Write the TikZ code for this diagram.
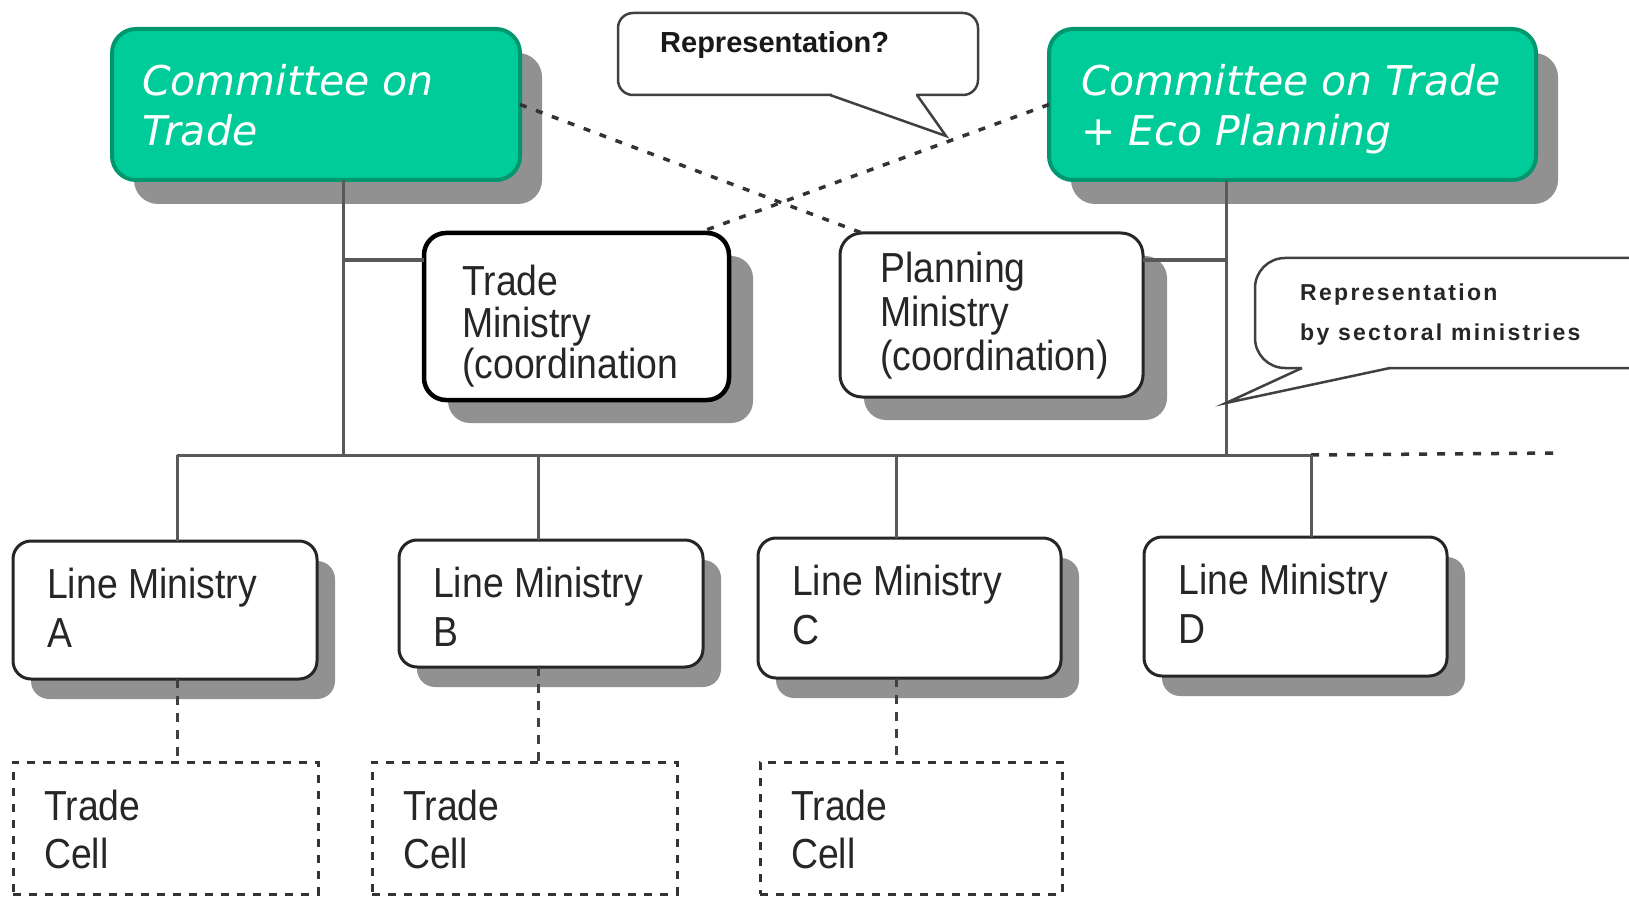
\documentclass[tikz,border=0pt]{standalone}
\usepackage{fontspec}
\setmainfont{Liberation Sans}
\newfontfamily\boxfont[FakeStretch=0.89]{Liberation Sans}
\newfontfamily\greenfont{DejaVu Sans Oblique}
\newfontfamily\notefont[LetterSpace=10]{Liberation Sans}
\usetikzlibrary{shadows}

\definecolor{cgreen}{RGB}{0,204,153}
\definecolor{cgreendark}{RGB}{0,150,110}
\definecolor{shade}{RGB}{145,145,145}

\tikzset{
  plainbox/.style={rectangle, inner sep=0pt, outer sep=0pt},
  greenbox/.style={plainbox, draw=cgreendark, line width=4pt, fill=cgreen,
    rounded corners=24pt,
    drop shadow={shadow xshift=22pt, shadow yshift=-24pt, fill=shade, opacity=1}},
  ministrybox/.style={plainbox, line width=4.5pt, fill=white, rounded corners=22pt,
    drop shadow={shadow xshift=24pt, shadow yshift=-23pt, fill=shade, opacity=1}},
  linebox/.style={plainbox, draw=black!85, line width=3pt, fill=white,
    rounded corners=18pt,
    drop shadow={shadow xshift=18pt, shadow yshift=-20pt, fill=shade, opacity=1}},
  cellbox/.style={plainbox, draw=black!80, line width=3pt,
    dash pattern=on 8pt off 8pt},
  conn/.style={draw=black!65, line width=3pt},
  dashconn/.style={draw=black!80, line width=3.5pt, dash pattern=on 7pt off 10pt},
  celllink/.style={draw=black!75, line width=3pt, dash pattern=on 9pt off 8pt},
  bubble/.style={draw=black!75, line width=2.5pt, fill=white},
  gtext/.style={anchor=base west, inner sep=0pt, text=white,
    font=\greenfont\fontsize{41}{41}\selectfont},
  btext/.style={anchor=base west, inner sep=0pt, text=black!85,
    font=\boxfont\fontsize{42}{42}\selectfont},
  qtext/.style={anchor=base west, inner sep=0pt, text=black!90,
    font=\bfseries\fontsize{29}{29}\selectfont},
  ntext/.style={anchor=base west, inner sep=0pt, text=black!85,
    font=\notefont\bfseries\fontsize{23}{23}\selectfont},
}

\begin{document}
\begin{tikzpicture}[x=1pt,y=-1pt]
\useasboundingbox (0,0) rectangle (1629,901);
\clip (0,0) rectangle (1629,901);

% junction points of the tree
\coordinate (jCotBus) at (343,455);
\coordinate (jCotTm)  at (343,260);
\coordinate (jEpBus)  at (1226,455);
\coordinate (jEpPm)   at (1226,260);
\coordinate (jLA) at (177,455);
\coordinate (jLB) at (538,455);
\coordinate (jLC) at (896,455);
\coordinate (jLD) at (1311,455);
\coordinate (busEnd) at (1559,453);
\coordinate (noteTip) at (1226,403);
\coordinate (askTip) at (946,136);

% committees
\node[greenbox, minimum width=408pt, minimum height=151pt] (cot) at (316,104.5) {};
\node[greenbox, minimum width=487pt, minimum height=151pt] (cotep) at (1292.5,104.5) {};
\node[gtext] (cotL1) at ([xshift=30pt,yshift=-67pt]cot.north west) {Committee on};
\node[gtext] (cotL2) at ([xshift=30pt,yshift=-117pt]cot.north west) {Trade};
\node[gtext] (cotepL1) at ([xshift=32pt,yshift=-67pt]cotep.north west) {Committee on Trade};
\node[gtext] (cotepL2) at ([xshift=32pt,yshift=-117pt]cotep.north west) {+ Eco Planning};

% coordinating ministries
\node[ministrybox, draw=black, minimum width=305pt, minimum height=167pt] (tm) at (576.5,316.5) {};
\node[ministrybox, draw=black!85, line width=3pt, minimum width=303pt, minimum height=164pt] (pm) at (991.5,315) {};
\node[btext] (tmL1) at ([xshift=38pt,yshift=-62pt]tm.north west) {Trade};
\node[btext] (tmL2) at ([xshift=38pt,yshift=-104pt]tm.north west) {Ministry};
\node[btext] (tmL3) at ([xshift=38pt,yshift=-145pt]tm.north west) {(coordination};
\node[btext] (pmL1) at ([xshift=40pt,yshift=-50pt]pm.north west) {Planning};
\node[btext] (pmL2) at ([xshift=40pt,yshift=-93pt]pm.north west) {Ministry};
\node[btext] (pmL3) at ([xshift=40pt,yshift=-137pt]pm.north west) {(coordination)};

% line ministries
\node[linebox, minimum width=304pt, minimum height=138pt] (lmA) at (165,610) {};
\node[linebox, minimum width=304pt, minimum height=127pt] (lmB) at (551,603.5) {};
\node[linebox, minimum width=303pt, minimum height=140pt] (lmC) at (909.5,608) {};
\node[linebox, minimum width=303pt, minimum height=139pt] (lmD) at (1295.5,606.5) {};
\foreach \m/\l in {lmA/A, lmB/B, lmC/C, lmD/D}{
  \node[btext] (\m L1) at ([xshift=34pt,yshift=-57pt]\m.north west) {Line Ministry};
  \node[btext] (\m L2) at ([xshift=34pt,yshift=-106pt]\m.north west) {\l};
}

% trade cells
\node[cellbox, minimum width=305pt, minimum height=132pt] (tcA) at (165.5,828) {};
\node[cellbox, minimum width=305pt, minimum height=132pt] (tcB) at (524.5,828) {};
\node[cellbox, minimum width=302pt, minimum height=132pt] (tcC) at (911,828) {};
\foreach \c in {tcA, tcB, tcC}{
  \node[btext] (\c L1) at ([xshift=31pt,yshift=-58pt]\c.north west) {Trade};
  \node[btext] (\c L2) at ([xshift=31pt,yshift=-106pt]\c.north west) {Cell};
}

% reporting lines
\draw[conn] (cot.south -| jCotBus) -- (jCotBus);
\draw[conn] (jCotTm) -- (tm.west |- jCotTm);
\draw[conn] (cotep.south -| jEpBus) -- (jEpBus);
\draw[conn] (jEpPm) -- (pm.east |- jEpPm);
\draw[conn] (jLA) -- (jLD);
\draw[dashconn, dash pattern=on 8pt off 10pt] (jLD) -- (busEnd);
\draw[conn] (jLA) -- (lmA.north -| jLA);
\draw[conn] (jLB) -- (lmB.north -| jLB);
\draw[conn] (jLC) -- (lmC.north -| jLC);
\draw[conn] (jLD) -- (lmD.north -| jLD);

% links to trade cells
\draw[celllink] (lmA.south -| jLA) -- (tcA.north -| jLA);
\draw[celllink] (lmB.south -| jLB) -- (tcB.north -| jLB);
\draw[celllink] (lmC.south -| jLC) -- (tcC.north -| jLC);

% cross representation lines
\draw[dashconn] (cot.east) -- ([xshift=22pt]pm.north west);
\draw[dashconn] (cotep.west) -- ([xshift=-31pt]tm.north east);

% speech bubble: Representation?
\draw[bubble, rounded corners=15pt] (618,13) rectangle (978,95);
\fill[white] (832,91) rectangle (916,98);
\draw[bubble, fill=none] (830,95) -- (askTip) -- (917,95);
\node[qtext] (askText) at (660,53) {Representation?};

% speech bubble: sectoral representation
\draw[bubble, rounded corners=30pt] (1255,258) rectangle (1690,368);
\fill[white] (1302,364) rectangle (1389,372);
\draw[bubble, fill=none] (1302,368) -- (noteTip) -- (1390,368);
\node[ntext] (noteL1) at (1300,300) {Representation};
\node[ntext] (noteL2) at (1300,340) {by sectoral ministries};
\end{tikzpicture}
\end{document}
